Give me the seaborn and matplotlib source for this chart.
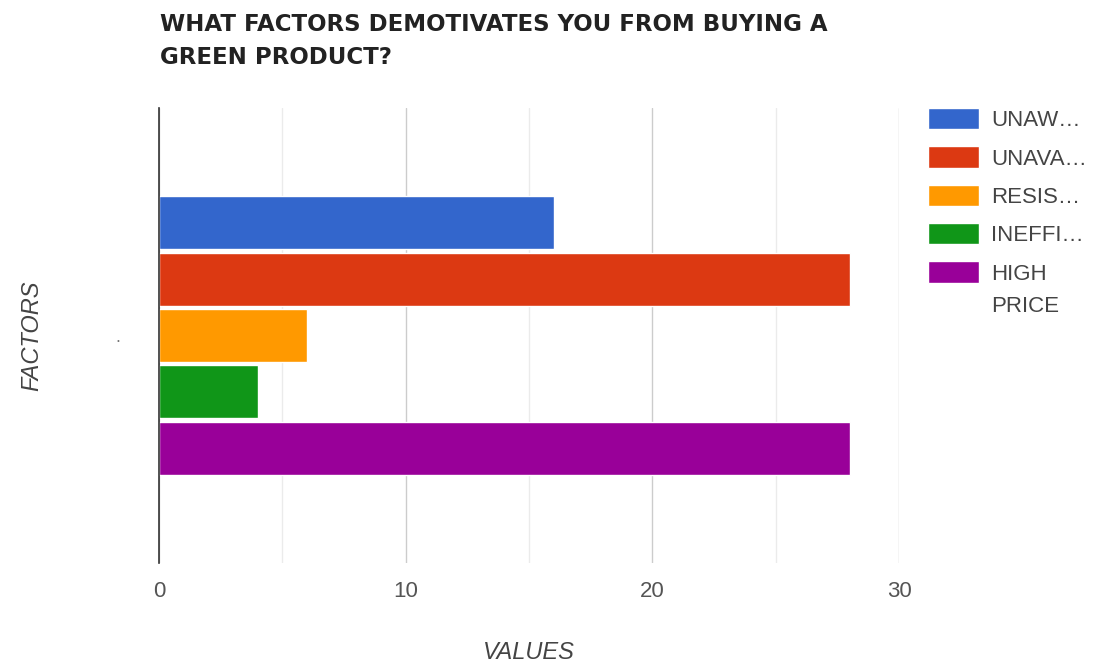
import matplotlib
matplotlib.use("Agg")
import matplotlib.pyplot as plt
from matplotlib.ticker import MultipleLocator
import seaborn as sns
import pandas as pd

# Survey responses: one factor group, five reasons
category = ["."]
series = ["UNAW…", "UNAVA…", "RESIS…", "INEFFI…", "HIGH PRICE"]
values = [16, 28, 6, 4, 28]
colors = ["#3366CC", "#DC3912", "#FF9900", "#109618", "#990099"]
x_ticks = [0, 10, 20, 30]

df = pd.DataFrame({
    "factor": category * len(series),
    "reason": series,
    "value": values,
})

sns.set_style("white")
plt.rcParams["font.family"] = ["Liberation Sans", "DejaVu Sans"]

fig = plt.figure(figsize=(11.04, 6.67), dpi=100)
ax = fig.add_axes([0.144, 0.156, 0.6703, 0.682])

sns.barplot(
    data=df, x="value", y="factor", hue="reason", orient="h",
    hue_order=series, palette=colors, width=0.62, gap=0.06,
    saturation=1, ax=ax, legend=True,
)

ax.set_xlim(0, 30)
ax.set_ylim(0.5, -0.5)
ax.xaxis.set_major_locator(MultipleLocator(10))
ax.xaxis.set_minor_locator(MultipleLocator(5))
ax.set_xticks(x_ticks)
ax.grid(True, axis="x", which="major", color="#cccccc", linewidth=1)
ax.grid(True, axis="x", which="minor", color="#ebebeb", linewidth=1)
ax.set_axisbelow(True)

for side in ["top", "right", "bottom"]:
    ax.spines[side].set_visible(False)
ax.spines["left"].set_color("#333333")
ax.spines["left"].set_linewidth(1.2)
ax.spines["left"].set_zorder(5)

ax.tick_params(axis="x", which="both", length=0, pad=13, labelsize=16, labelcolor="#555555")
ax.tick_params(axis="y", length=0, pad=28, labelsize=13, labelcolor="#777777")

ax.set_xlabel("VALUES", fontsize=17, fontstyle="italic", color="#444444")
ax.set_ylabel("FACTORS", fontsize=17, fontstyle="italic", color="#444444")
ax.xaxis.set_label_coords(0.50, -0.172)
ax.yaxis.set_label_coords(-0.157, 0.5)

fig.text(0.145, 0.981, "WHAT FACTORS DEMOTIVATES YOU FROM BUYING A\nGREEN PRODUCT?",
         fontsize=16.5, fontweight="bold", family="DejaVu Sans", color="#222222",
         va="top", ha="left", linespacing=1.6)

# Legend: long labels wrap onto a second line under the first, swatch stays on top
handles, labels = ax.get_legend_handles_labels()
first_lines = [lab.split(" ")[0] for lab in labels]
leg = ax.legend(handles, first_lines, loc="upper left", bbox_to_anchor=(1.039, 1.0),
                frameon=False, fontsize=16, labelcolor="#444444",
                handlelength=2.3, handleheight=1.1, handletextpad=0.55,
                labelspacing=0.68, borderaxespad=0, borderpad=0)
for lab, txt in zip(labels, leg.get_texts()):
    rest = lab.split(" ", 1)[1:]
    if rest:
        ax.annotate(rest[0], xy=(0, 0), xycoords=txt, xytext=(0, -32),
                    textcoords="offset pixels", ha="left", va="bottom",
                    fontsize=16, color="#444444", annotation_clip=False,
                    zorder=10)

fig.savefig("out.png", dpi=100, facecolor="white")
